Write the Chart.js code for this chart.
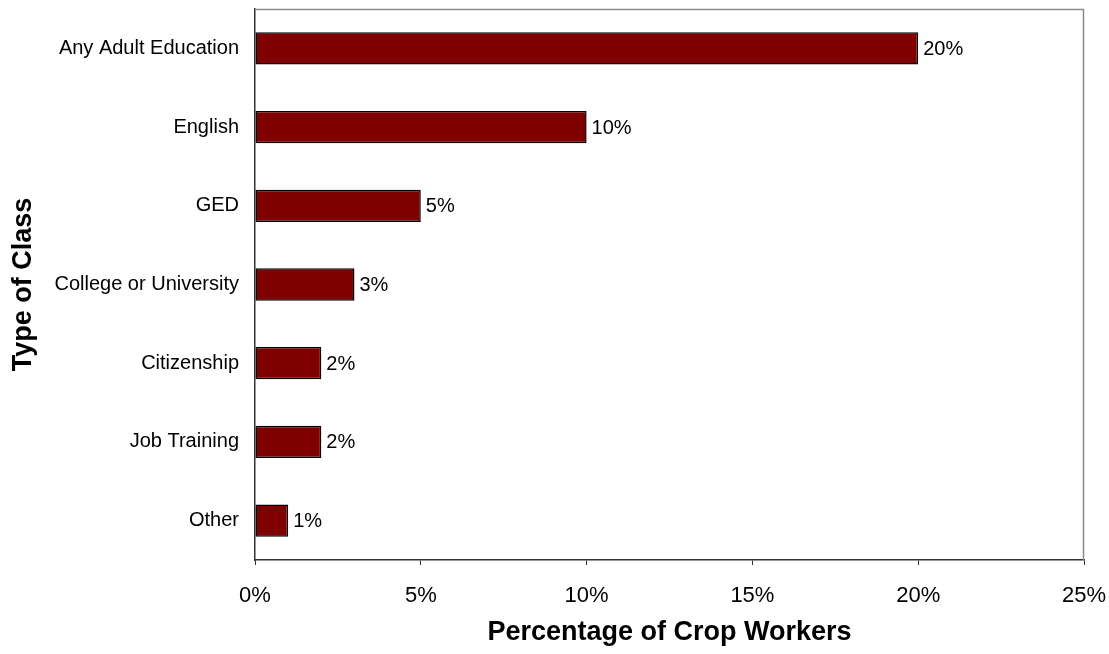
<!DOCTYPE html>
<html>
<head>
<meta charset="utf-8">
<script src="https://cdn.jsdelivr.net/npm/chart.js@4/dist/chart.umd.min.js"></script>
<style>
  html, body { margin: 0; padding: 0; background: #fff; }
</style>
</head>
<body>
<canvas id="chart" width="1109" height="654"></canvas>
<script>
// data
const classTypes = ['Any Adult Education', 'English', 'GED', 'College or University', 'Citizenship', 'Job Training', 'Other'];
const shareOfWorkers = [20, 10, 5, 3, 2, 2, 1];
const xTicks = [0, 5, 10, 15, 20, 25];

const FONT = "'Liberation Sans', Arial, sans-serif";

// gray frame on top and right of the plot
const framePlugin = {
  id: 'frame',
  beforeDatasetsDraw(chart) {
    const { ctx, chartArea: a } = chart;
    ctx.save();
    ctx.strokeStyle = '#8a8a8a';
    ctx.lineWidth = 1.5;
    ctx.beginPath();
    ctx.moveTo(a.left, a.top + 0.5);
    ctx.lineTo(a.right - 0.5, a.top + 0.5);
    ctx.lineTo(a.right - 0.5, a.bottom);
    ctx.stroke();
    ctx.restore();
  }
};

// value labels at the bar ends
const valueLabels = {
  id: 'valueLabels',
  afterDatasetsDraw(chart) {
    const { ctx } = chart;
    const meta = chart.getDatasetMeta(0);
    ctx.save();
    ctx.font = '20px ' + FONT;
    ctx.fillStyle = '#000';
    ctx.textAlign = 'left';
    ctx.textBaseline = 'middle';
    meta.data.forEach((bar, i) => {
      ctx.fillText(shareOfWorkers[i] + '%', bar.x + 5, bar.y + 1);
    });
    ctx.restore();
  }
};

new Chart(document.getElementById('chart'), {
  type: 'bar',
  data: {
    labels: classTypes,
    datasets: [{
      data: shareOfWorkers,
      backgroundColor: '#800000',
      borderColor: '#000',
      borderWidth: 1.5,
      borderSkipped: false,
      categoryPercentage: 1,
      barPercentage: 0.41
    }]
  },
  options: {
    indexAxis: 'y',
    responsive: false,
    animation: false,
    layout: { padding: { top: 9, right: 25, left: 0, bottom: 0 } },
    plugins: { legend: { display: false }, tooltip: { enabled: false } },
    scales: {
      x: {
        min: 0,
        max: 25,
        afterBuildTicks(scale) { scale.ticks = xTicks.map(v => ({ value: v })); },
        afterFit(scale) {
          scale.height = 94;
          scale.paddingLeft = 0;
          scale.paddingRight = 0;
        },
        grid: { drawOnChartArea: false, drawTicks: true, tickLength: 5, color: '#333' },
        border: { display: true, color: '#333', width: 1.5 },
        ticks: {
          padding: 18,
          color: '#000',
          font: { family: FONT, size: 22 },
          callback: v => v + '%'
        },
        title: {
          display: true,
          text: 'Percentage of Crop Workers',
          color: '#000',
          font: { family: FONT, size: 27, weight: 'bold' },
          padding: { top: 0, bottom: 5 }
        }
      },
      y: {
        afterFit(scale) {
          scale.width = 255;
          scale.paddingTop = 0;
          scale.paddingBottom = 0;
        },
        grid: { display: false, drawTicks: false },
        border: { display: true, color: '#333', width: 1.5 },
        ticks: {
          padding: 16,
          color: '#000',
          font: { family: FONT, size: 20 }
        },
        title: {
          display: true,
          text: 'Type of Class',
          color: '#000',
          font: { family: FONT, size: 27, weight: 'bold' },
          padding: { top: 7, bottom: 0 }
        }
      }
    }
  },
  plugins: [framePlugin, valueLabels]
});
</script>
</body>
</html>
